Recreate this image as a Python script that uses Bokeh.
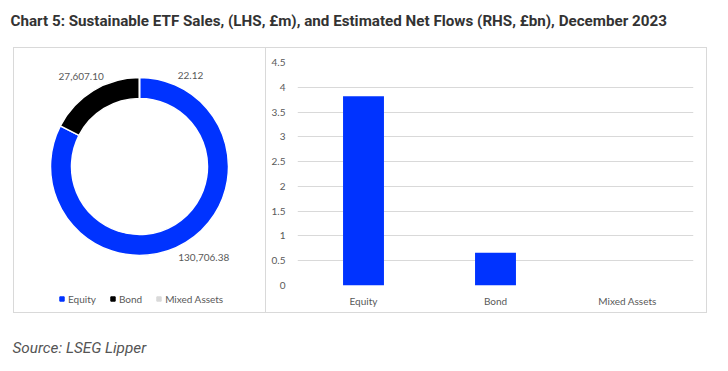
import numpy as np
from bokeh.plotting import figure
from bokeh.models import Range1d, FactorRange, Legend, LegendItem, NumeralTickFormatter, Spacer
from bokeh.layouts import column, row
from bokeh.core.properties import value
from bokeh.embed import file_html
from bokeh.resources import INLINE

# ---------------- data ----------------
title_text = "Chart 5: Sustainable ETF Sales, (LHS, £m), and Estimated Net Flows (RHS, £bn), December 2023"
source_text = "Source: LSEG Lipper"
categories = ["Equity", "Bond", "Mixed Assets"]
sales_m = [130706.38, 27607.10, 22.12]          # LHS donut, £m
net_flows_bn = [3.82, 0.66, 0.0]                 # RHS bars, £bn
y_ticks = [0, 0.5, 1, 1.5, 2, 2.5, 3, 3.5, 4, 4.5]
colors = ["#0033FF", "#000000", "#D9D9D9"]

# label styling offsets (px) for donut labels
label_dx = [8, -2, 51]
label_dy = [1, -2, -17]

FONT = "Lato"
GREY = "#595959"
BORDER = "#D9D9D9"

# ---------------- title ----------------
tfig = figure(width=720, height=47, x_range=Range1d(0, 720), y_range=Range1d(0, 47),
              output_backend="svg", toolbar_location=None,
              x_axis_location=None, y_axis_location=None, min_border=0)
tfig.grid.visible = False
tfig.outline_line_color = None
tfig.text(x=[10], y=[27], text=[title_text], text_font=value("Roboto"), text_font_style="bold",
          text_font_size="15.2px", text_color="#333333", text_baseline="middle", text_align="left")

# ---------------- donut ----------------
# frame covers the whole left box (page x 13..266, y 47..313); 1 data unit = 1 px
pie = figure(width=253, height=266, x_range=Range1d(-126, 127), y_range=Range1d(-147, 119),
             output_backend="svg", toolbar_location=None,
             x_axis_location=None, y_axis_location=None, min_border=0,
             styles={"box-shadow": f"inset 0 0 0 1px {BORDER}"})
pie.grid.visible = False
pie.outline_line_color = None
pie.border_fill_color = None
pie.background_fill_color = None

vals = np.array(sales_m)
frac = vals / vals.sum()
cum = np.concatenate([[0.0], np.cumsum(frac)])
start = np.pi / 2 - 2 * np.pi * cum[:-1]
end = np.pi / 2 - 2 * np.pi * cum[1:]
pie.annular_wedge(x=0, y=0, inner_radius=68, outer_radius=89,
                  start_angle=start, end_angle=end, direction="clock",
                  fill_color=colors, line_color="white", line_width=1.5)

mid = (start + end) / 2
lr = 108
lx = lr * np.cos(mid) + np.array(label_dx)
ly = lr * np.sin(mid) + np.array(label_dy)
pie.text(x=lx, y=ly, text=[f"{v:,.2f}" for v in sales_m], text_font=value(FONT),
         text_font_size="10px", text_color=GREY, text_align="center", text_baseline="middle")

items = []
for c, col in zip(categories, colors):
    r = pie.scatter(x=[np.nan], y=[np.nan], marker="square", size=5, fill_color=col, line_color=col)
    items.append(LegendItem(label=c, renderers=[r]))
legend = Legend(items=items, orientation="horizontal", location=(43, 8),
                padding=0, margin=0, spacing=11, glyph_width=11, glyph_height=13,
                label_standoff=1, border_line_color=None, background_fill_alpha=0,
                label_text_font=FONT, label_text_font_size="10px", label_text_color=GREY)
pie.add_layout(legend, "center")

# ---------------- bars ----------------
bar = figure(width=441, height=266, x_range=FactorRange(factors=categories, range_padding=0),
             y_range=Range1d(0, 4.5), output_backend="svg", toolbar_location=None,
             min_border_left=31, min_border_right=14, min_border_top=15, min_border_bottom=28,
             styles={"box-shadow": f"inset 0 1px 0 {BORDER}, inset -1px -1px 0 {BORDER}"})
bar.border_fill_color = None
bar.background_fill_color = None
bar.outline_line_color = None
bar.vbar(x=categories, top=net_flows_bn, width=0.31, fill_color="#0033FF", line_color=None)

bar.yaxis.ticker = y_ticks
bar.yaxis.formatter = NumeralTickFormatter(format="0.[0]")
for ax in (bar.xaxis, bar.yaxis):
    ax.axis_line_color = None
    ax.major_tick_line_color = None
    ax.minor_tick_line_color = None
    ax.major_label_text_font = FONT
    ax.major_label_text_font_size = "10px"
    ax.major_label_text_color = GREY
bar.yaxis.major_label_standoff = 6
bar.xaxis.major_label_standoff = 3
bar.xgrid.grid_line_color = None
bar.ygrid.grid_line_color = BORDER
bar.ygrid.grid_line_width = 1

# ---------------- source ----------------
sfig = figure(width=720, height=50, x_range=Range1d(0, 720), y_range=Range1d(0, 50),
              output_backend="svg", toolbar_location=None,
              x_axis_location=None, y_axis_location=None, min_border=0)
sfig.grid.visible = False
sfig.outline_line_color = None
sfig.text(x=[12], y=[16], text=[source_text], text_font=value("Roboto"), text_font_style="italic",
          text_font_size="15.3px", text_color="#555555", text_baseline="middle", text_align="left")

layout = column(tfig, row(Spacer(width=13, height=266), column(pie), column(bar)), sfig)
open("out.html", "w").write(file_html(layout, INLINE))
